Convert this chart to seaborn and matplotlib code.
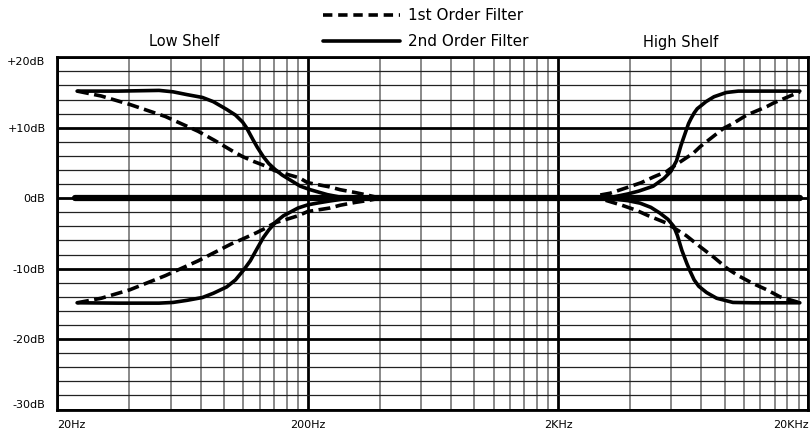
import matplotlib
matplotlib.use("Agg")
import matplotlib.pyplot as plt
from matplotlib.lines import Line2D
from matplotlib.ticker import FixedLocator, NullFormatter
import seaborn as sns

# ---------------- data ----------------
x_ticks = [20, 200, 2000, 20000]
x_tick_labels = ["20Hz", "200Hz", "2KHz", "20KHz"]
y_ticks = [-30, -20, -10, 0, 10, 20]
y_tick_labels = ["-30dB", "-20dB", "-10dB", "0dB", "+10dB", "+20dB"]

flat_freq = [23.5, 18500]
flat_db = [0, 0]

low2_boost_freq = [24, 35, 51, 58, 66, 76, 84, 95, 103, 110, 114, 121, 126, 133, 140, 148, 158, 170, 187, 205, 240, 275]
low2_boost_db = [15.2, 15.2, 15.3, 15.1, 14.7, 14.3, 13.7, 12.6, 11.8, 10.8, 10.0, 8.3, 7.2, 5.9, 4.9, 4.1, 3.3, 2.6, 1.7, 1.2, 0.5, 0.1]
low2_cut_freq = [24, 35, 51, 58, 66, 76, 84, 95, 103, 111, 118, 125, 133, 140, 150, 160, 183, 200, 218, 245, 280]
low2_cut_db = [-14.85, -14.9, -14.9, -14.8, -14.5, -14.1, -13.5, -12.6, -11.6, -10.2, -8.9, -7.3, -5.6, -4.5, -3.3, -2.5, -1.4, -0.95, -0.7, -0.4, -0.1]

low1_boost_freq = [24, 30, 39, 54, 73, 85, 99, 110, 122, 135, 148, 165, 185, 200, 245, 270, 310, 345, 370]
low1_boost_db = [15.2, 14.5, 13.3, 11.6, 9.5, 8.2, 6.8, 5.9, 5.2, 4.6, 3.9, 3.4, 2.9, 2.2, 1.6, 1.2, 0.8, 0.45, 0.2]
low1_cut_freq = [24, 30, 39, 54, 73, 99, 110, 125, 135, 148, 165, 183, 200, 245, 270, 310, 345, 370]
low1_cut_db = [-14.85, -14.2, -13.0, -11.0, -8.9, -6.5, -5.8, -4.9, -4.3, -3.5, -3.0, -2.5, -1.9, -1.4, -1.0, -0.6, -0.35, -0.15]

high2_boost_freq = [3300, 3800, 4200, 4800, 5300, 5650, 5950, 6200, 6500, 6650, 6800, 7000, 7200, 7500, 7800, 8400, 9400, 10500, 13000, 18500]
high2_boost_db = [0.15, 0.6, 1.0, 1.7, 2.8, 3.8, 5.3, 7.5, 9.6, 10.6, 11.3, 12.1, 12.7, 13.2, 13.7, 14.4, 15.0, 15.2, 15.2, 15.2]
high2_cut_freq = [3300, 3800, 4250, 4700, 5100, 5500, 5800, 6000, 6250, 6550, 6750, 7000, 7300, 7850, 8600, 10000, 12000, 18500]
high2_cut_db = [-0.1, -0.35, -0.7, -1.3, -2.1, -3.0, -4.0, -5.3, -7.4, -9.3, -10.4, -11.6, -12.5, -13.4, -14.2, -14.8, -14.85, -14.85]

high1_boost_freq = [2950, 3230, 3770, 4300, 4810, 5440, 5780, 6950, 7390, 9160, 10000, 11350, 13650, 14510, 18500]
high1_boost_db = [0.45, 0.7, 1.5, 2.2, 3.0, 3.8, 4.5, 6.4, 7.3, 9.9, 10.6, 11.8, 13.0, 13.5, 15.1]
high1_cut_freq = [3100, 3600, 4100, 4600, 5400, 5800, 6500, 7400, 8400, 9500, 10500, 12000, 13650, 15400, 18500]
high1_cut_db = [-0.3, -1.0, -1.7, -2.5, -3.5, -4.2, -5.3, -6.9, -8.4, -10.0, -11.0, -12.1, -13.0, -14.0, -14.85]

legend_labels = ["1st Order Filter", "2nd Order Filter"]
region_labels = ["Low Shelf", "High Shelf"]

# ---------------- figure ----------------
sns.set_style("white")
plt.rcParams["font.family"] = ["DejaVu Sans"]
plt.rcParams["text.color"] = "black"
plt.rcParams["xtick.color"] = "black"
plt.rcParams["ytick.color"] = "black"

fig = plt.figure(figsize=(8.12, 4.32), dpi=100)
ax = fig.add_axes([57.3 / 812, 1 - 409.5 / 432, (808.3 - 57.3) / 812, (409.5 - 57.3) / 432])
ax.set_xscale("log")
ax.set_xlim(20, 20000)
ax.set_ylim(-30, 20)

# grid (linear subdivision of each decade, as on the original chart paper)
minor_x = [d * (1.04 + 0.9 * k) for d in (20, 200, 2000) for k in range(1, 10)]
ax.xaxis.set_major_locator(FixedLocator(x_ticks))
ax.xaxis.set_minor_locator(FixedLocator(minor_x))
ax.xaxis.set_minor_formatter(NullFormatter())
ax.set_xticklabels(x_tick_labels)
ax.yaxis.set_major_locator(FixedLocator(y_ticks))
ax.yaxis.set_minor_locator(FixedLocator(list(range(-30, 21, 2))))
ax.set_yticklabels(y_tick_labels)
ax.set_axisbelow(True)
ax.xaxis.grid(True, which="major", color="black", lw=2.0)
ax.yaxis.grid(True, which="major", color="black", lw=2.0)
ax.xaxis.grid(True, which="minor", color="#6a6a6a", lw=1.1)
ax.yaxis.grid(True, which="minor", color="#222222", lw=0.9)
ax.tick_params(which="both", length=0)
ax.tick_params(axis="x", pad=7.5, labelsize=8, labelcolor="black")
ax.tick_params(axis="y", pad=8.5, labelsize=8, labelcolor="black")
for s in ax.spines.values():
    s.set_color("black")
    s.set_linewidth(2.0)
xl = ax.get_xticklabels()
xl[0].set_ha("left")
xl[-1].set_ha("right")
yl = ax.get_yticklabels()
yl[-1].set_va("top")
yl[0].set_va("bottom")

dash = (0, (3.3, 1.5))
solid_kw = dict(color="black", lw=2.6, estimator=None, sort=False, ax=ax)
dash_kw = dict(color="black", lw=2.6, estimator=None, sort=False, ax=ax, linestyle=dash)

sns.lineplot(x=flat_freq, y=flat_db, color="black", lw=4.5, estimator=None, sort=False, ax=ax)
for f, d in [(low2_boost_freq, low2_boost_db), (low2_cut_freq, low2_cut_db),
             (high2_boost_freq, high2_boost_db), (high2_cut_freq, high2_cut_db)]:
    sns.lineplot(x=f, y=d, **solid_kw)
for f, d in [(low1_boost_freq, low1_boost_db), (low1_cut_freq, low1_cut_db),
             (high1_boost_freq, high1_boost_db), (high1_cut_freq, high1_cut_db)]:
    sns.lineplot(x=f, y=d, **dash_kw)

ax.set_xlabel("")
ax.set_ylabel("")

handles = [Line2D([], [], color="black", lw=2.6, linestyle=(0, (2.6, 1.6))),
           Line2D([], [], color="black", lw=2.6)]
fig.legend(handles, legend_labels, loc="center", bbox_to_anchor=(426 / 812, 1 - 28.5 / 432),
           frameon=False, fontsize=11, handlelength=5.0, handletextpad=0.55, labelspacing=0.7,
           borderpad=0, borderaxespad=0)

fig.text(184 / 812, 1 - 42 / 432, region_labels[0], ha="center", va="center", fontsize=10.5, color="black")
fig.text(681 / 812, 1 - 42 / 432, region_labels[1], ha="center", va="center", fontsize=10.5, color="black")

fig.savefig("out.png", dpi=100)
